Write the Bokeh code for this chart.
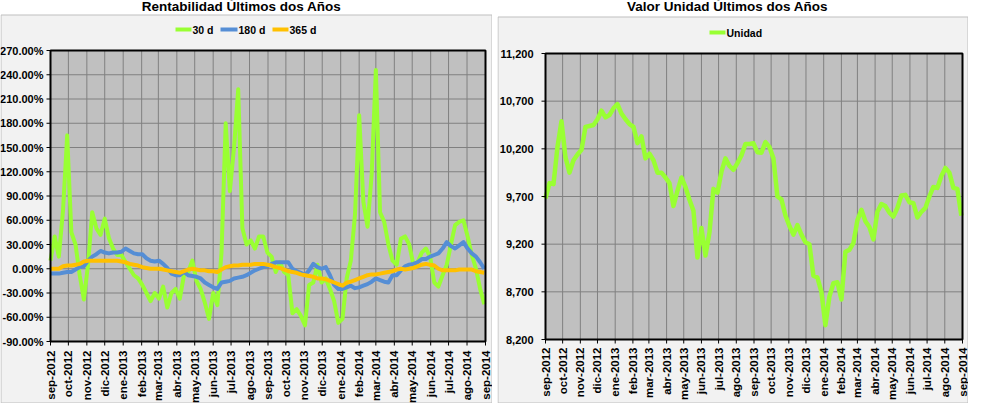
import math
import pandas as pd
from bokeh.plotting import figure
from bokeh.models import Range1d
from bokeh.core.properties import value
from bokeh.layouts import row
from bokeh.embed import file_html
from bokeh.resources import INLINE

# ---------------- data ----------------
title_left = "Rentabilidad Últimos dos Años"
title_right = "Valor Unidad Últimos dos Años"

month_labels = ["sep-2012", "oct-2012", "nov-2012", "dic-2012", "ene-2013", "feb-2013",
                "mar-2013", "abr-2013", "may-2013", "jun-2013", "jul-2013", "ago-2013",
                "sep-2013", "oct-2013", "nov-2013", "dic-2013", "ene-2014", "feb-2014",
                "mar-2014", "abr-2014", "may-2014", "jun-2014", "jul-2014", "ago-2014",
                "sep-2014"]

y_ticks_left = [-90, -60, -30, 0, 30, 60, 90, 120, 150, 180, 210, 240, 270]
y_ticks_right = [8200, 8700, 9200, 9700, 10200, 10700, 11200]
y_labels_left = [f"{v:.2f}%" for v in y_ticks_left]
y_labels_right = [f"{v:,}" for v in y_ticks_right]

series_left = ["30 d", "180 d", "365 d"]
series_right = ["Unidad"]

# weekly observations starting 2012-09-01
r30 = [10, 40, 15, 72, 165, 45, 30, -8, -38, 5,
       70, 50, 42, 62, 38, 25, 17, 17, 8, 0,
       -8, -12, -20, -30, -40, -30, -37, -22, -48, -30,
       -25, -37, -8, -4, 10, -15, -25, -42, -62, -30,
       -45, 20, 180, 96, 150, 222, 50, 30, 35, 25,
       40, 40, 20, 15, -4, 8, -4, -8, -55, -50,
       -58, -70, -20, -17, 5, -17, -12, -25, -40, -67,
       -62, -12, 10, 67, 190, 83, 52, 117, 246, 70,
       58, 30, 10, 5, 37, 40, 30, 5, 8, 20,
       25, 15, -17, -22, -8, 5, 30, 54, 58, 60,
       40, 17, 0, -25, -44]

r180 = [-6, -6, -6, -5, -4, -4, -1, 2, 3, 10,
        15, 18, 22, 20, 19, 20, 20, 21, 25, 22,
        19, 18, 18, 13, 10, 9, 10, 6, 1, -6,
        -8, -8, -4, -8, -9, -10, -12, -17, -20, -23,
        -25, -17, -16, -15, -12, -11, -10, -8, -5, -2,
        0, 2, 3, 6, 8, 8, 8, 8, 0, -3,
        -5, -8, -2, 6, 2, 0, 2, -8, -20, -25,
        -25, -23, -21, -24, -23, -21, -19, -16, -12, -14,
        -16, -17, -8, -8, -2, 3, 5, 6, 8, 12,
        12, 15, 17, 19, 25, 33, 28, 25, 29, 33,
        25, 19, 15, 8, 0]

r365 = [0, 0, 0, 3, 4, 4, 5, 6, 9, 10,
        10, 10, 10, 10, 10, 10, 10, 9, 8, 6,
        5, 4, 2, 1, 0, 0, 0, -1, -2, -3,
        -4, -5, -3, -1, 0, -1, -2, -2, -3, -3,
        -4, -1, 2, 3, 4, 4, 5, 5, 5, 6,
        6, 6, 5, 4, 2, 1, -1, -3, -4, -5,
        -7, -8, -9, -10, -12, -12, -13, -15, -17, -19,
        -21, -17, -16, -14, -12, -10, -8, -7, -7, -6,
        -5, -4, -3, -1, 0, -1, 0, 1, 3, 5,
        6, 5, 4, 0, -2, -2, -2, -2, -1, -1,
        -1, -1, -3, -4, -5]

unidad = [9680, 9840, 9830, 10220, 10490, 10110, 9950, 10080, 10140, 10190,
          10430, 10440, 10450, 10510, 10600, 10530, 10555, 10625, 10670, 10570,
          10510, 10460, 10430, 10260, 10330, 10100, 10150, 10080, 9950, 9950,
          9900, 9840, 9600, 9760, 9900, 9800, 9665, 9550, 9060, 9370,
          9080, 9320, 9780, 9740, 9960, 10100, 10020, 9980, 10050, 10130,
          10250, 10250, 10258, 10165, 10160, 10270, 10220, 10100, 9700, 9670,
          9500, 9390, 9300, 9400, 9300, 9220, 9200, 8870, 8850, 8700,
          8350, 8650, 8790, 8800, 8620, 9120, 9140, 9211, 9450, 9560,
          9440, 9380, 9250, 9540, 9620, 9600, 9530, 9490, 9580, 9710,
          9717, 9640, 9630, 9480, 9540, 9580, 9700, 9800, 9790, 9915,
          10000, 9950, 9790, 9780, 9500]

start = pd.Timestamp("2012-09-01")
dates = pd.date_range(start, periods=len(r30), freq="7D")
x_days = [int((d - start).days) for d in dates]
month_ticks = pd.date_range(start, periods=len(month_labels), freq="MS")
tick_days = [int((t - start).days) for t in month_ticks]

FONT = "Liberation Sans"
GREEN = "#99FF33"
BLUE = "#558ED5"
ORANGE = "#FFC000"
H = 403


def build(W, box, yticks, ylabels, title, title_px, panel_top, ystand, xstand,
          legend_items, legend_y):
    L, R, T, B = box
    xlo, xhi = tick_days[0], tick_days[-1]
    ylo, yhi = yticks[0], yticks[-1]

    def fx(px):
        return xlo + (px - L) * (xhi - xlo) / (R - L)

    def fy(py):
        return yhi - (py - T) * (yhi - ylo) / (B - T)

    p = figure(width=W, height=H, x_range=Range1d(fx(0), fx(W)),
               y_range=Range1d(fy(H), fy(0)), min_border=0,
               x_axis_location=None, y_axis_location=None,
               output_backend="svg", toolbar_location=None,
               background_fill_color="white", border_fill_color="white",
               outline_line_color=None)
    p.grid.visible = False

    # panel background and plot area
    p.quad(left=[fx(0.5)], right=[fx(W - 0.5)], top=[fy(panel_top)], bottom=[fy(H - 0.5)],
           fill_color="#F2F2F2", line_color="#BFBFBF", line_width=1)
    p.quad(left=[xlo], right=[xhi], bottom=[ylo], top=[yhi],
           fill_color="#C0C0C0", line_color=None)

    # grid
    n, m = len(tick_days), len(yticks)
    p.segment(x0=tick_days, y0=[ylo] * n, x1=tick_days, y1=[yhi] * n,
              line_color="#808080", line_width=1)
    p.segment(x0=[xlo] * m, y0=yticks, x1=[xhi] * m, y1=yticks,
              line_color="#808080", line_width=1)

    def finish(p):
        # frame border, ticks and labels
        p.quad(left=[xlo], right=[xhi], bottom=[ylo], top=[yhi],
               fill_color=None, line_color="black", line_width=2)
        p.segment(x0=tick_days, y0=[ylo] * n, x1=tick_days, y1=[fy(B + 4)] * n,
                  line_color="black", line_width=1)
        p.segment(x0=[fx(L - 4)] * m, y0=yticks, x1=[xlo] * m, y1=yticks,
                  line_color="black", line_width=1)
        p.text(x=[fx(L - ystand)] * m, y=yticks, text=ylabels,
               text_align="right", text_baseline="middle", text_font=value(FONT),
               text_font_style="bold", text_font_size=value("11px"), text_color="black")
        p.text(x=tick_days, y=[fy(B + xstand)] * n, text=month_labels, angle=math.pi / 2,
               text_align="right", text_baseline="middle", text_font=value(FONT),
               text_font_style="bold", text_font_size=value("11.5px"), text_color="black")
        # legend
        for (a, b, tx, color, lab) in legend_items:
            p.segment(x0=[fx(a)], y0=[fy(legend_y)], x1=[fx(b)], y1=[fy(legend_y)],
                      line_color=color, line_width=4)
            p.text(x=[fx(tx)], y=[fy(legend_y)], text=[lab], text_align="left",
                   text_baseline="middle", text_font=value(FONT), text_font_style="bold",
                   text_font_size=value("10.5px"), text_color="black")
        # title
        p.text(x=[fx(title_px[0])], y=[fy(title_px[1])], text=[title], text_align="center",
               text_baseline="middle", text_font=value(FONT), text_font_style="bold",
               text_font_size=value("13.5px"), text_color="black")

    return p, finish


# ---------------- left ----------------
p1, finish1 = build(492, (50, 485, 50, 341), y_ticks_left, y_labels_left, title_left,
                    (241, 6), 14.5, 7, 9,
                    [(175, 191, 192, GREEN, series_left[0]),
                     (220, 237, 238, BLUE, series_left[1]),
                     (272, 288, 289, ORANGE, series_left[2])], 29)
p1.line(x_days, r30, line_color=GREEN, line_width=4, line_join="round")
p1.line(x_days, r180, line_color=BLUE, line_width=4, line_join="round")
p1.line(x_days, r365, line_color=ORANGE, line_width=4, line_join="round")
finish1(p1)

# ---------------- right ----------------
p2, finish2 = build(471, (48, 465, 53, 339), y_ticks_right, y_labels_right, title_right,
                    (230, 6), 16.5, 12, 8,
                    [(212, 228, 229, GREEN, series_right[0])], 32)
p2.line(x_days, unidad, line_color=GREEN, line_width=4.5, line_join="round")
finish2(p2)

layout = row(p1, p2, spacing=5)

open("out.html", "w").write(file_html(layout, INLINE, title="chart"))
